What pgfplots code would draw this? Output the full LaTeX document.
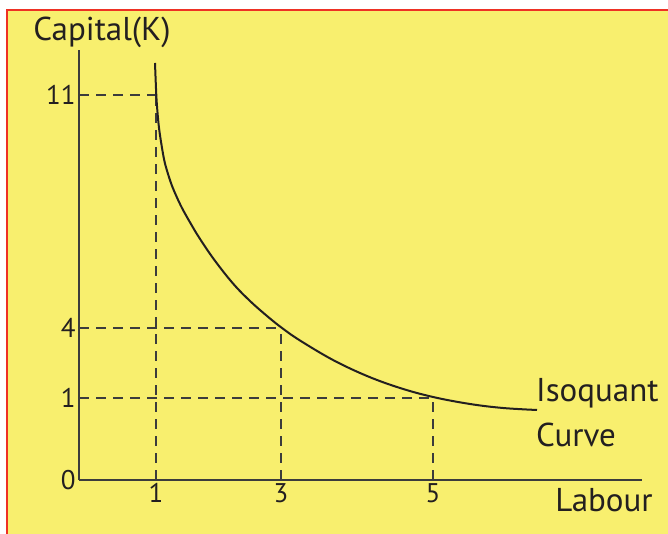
\documentclass[border=0pt]{standalone}
\usepackage{fontspec}
\setmainfont{PT Sans}
\usepackage{pgfplots}
\pgfplotsset{compat=1.18}
\definecolor{bg}{HTML}{F8EF6E}
\definecolor{bd}{HTML}{EE3124}
\definecolor{ax}{HTML}{3C3C3C}
\definecolor{txt}{HTML}{231F20}
\begin{document}
\begin{tikzpicture}[x=1pt,y=1pt]
\useasboundingbox (0,0) rectangle (668,534);
\fill[white] (0,0) rectangle (668,534);
\fill[bg] (7,0) rectangle (668,524);
\draw[bd, line width=2pt] (7,0) -- (7,524) -- (668,524);
\begin{axis}[
  at={(79pt,54pt)}, anchor=south west,
  scale only axis, width=563pt, height=430pt,
  xmin=79, xmax=642, ymin=0, ymax=430,
  axis lines=left,
  axis line style={-, ax, line width=1.2pt},
  xtick={156,281,433}, xticklabels={1,3,5},
  ytick={0,82,152,385}, yticklabels={0,1,4,11},
  major tick length=0pt,
  tick label style={font=\fontsize{27}{27}\selectfont, text=txt},
  /pgf/number format/assume math mode=true,
  clip=false,
]
\pgfplotsset{dline/.style={ax, line width=1.1pt, dash pattern=on 10pt off 7pt, no marks}}
\addplot[dline] coordinates {(79,385) (157,385)};
\addplot[dline] coordinates {(79,152) (281,152)};
\addplot[dline] coordinates {(79,82) (433,82)};
\addplot[dline] coordinates {(156,0) (156,385)};
\addplot[dline] coordinates {(281,0) (281,152)};
\addplot[dline] coordinates {(433,0) (433,82)};
\addplot[txt, line width=2pt, smooth, tension=0.6, no marks] coordinates {
(155,417) (156.2,387) (157.3,370) (158.9,353) (161.2,337) (164.2,320) (167.4,308)
(171.7,295) (176.3,284) (182,272) (189.8,258) (199.4,242)
(214.4,220) (233,196.5) (250,179) (267,164) (282,152) (300,139.5) (333,120)
(367,104) (400,92) (433,83) (470,76) (503,72) (537,70)};
\node[text=txt, font=\fontsize{33}{33}\selectfont] at (axis cs:102,448) {Capital(K)};
\node[text=txt, font=\fontsize{33}{33}\selectfont] at (axis cs:604,-20) {Labour};
\node[text=txt, font=\fontsize{33}{33}\selectfont, anchor=west, inner sep=0pt] at (axis cs:536,87) {Isoquant};
\node[text=txt, font=\fontsize{33}{33}\selectfont, anchor=west, inner sep=0pt] at (axis cs:536,45) {Curve};
\end{axis}
\end{tikzpicture}
\end{document}
